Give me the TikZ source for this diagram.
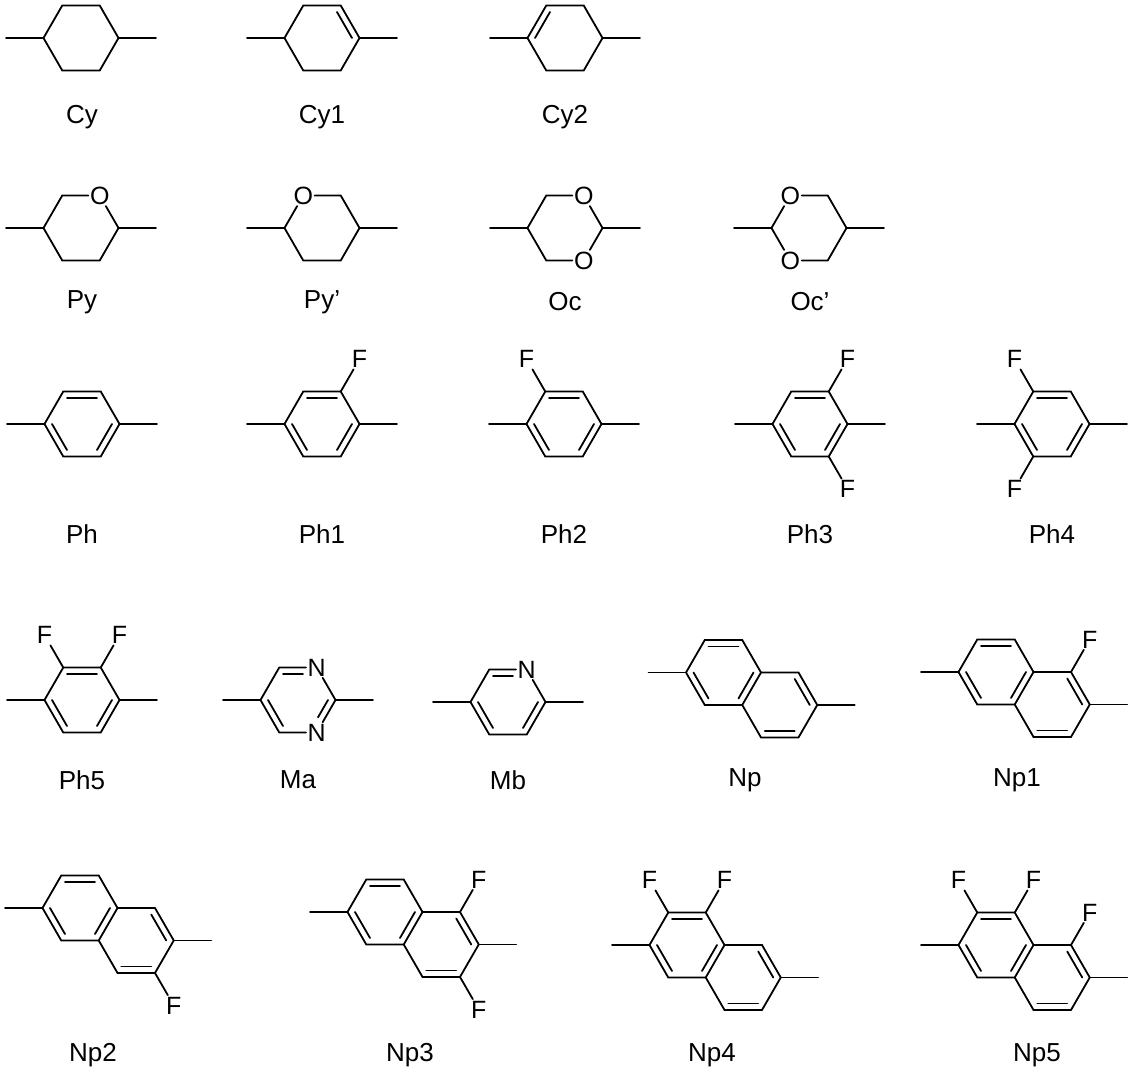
\documentclass[tikz,border=0pt]{standalone}
\usepackage{fontspec}
\setmainfont{Liberation Sans}
\usetikzlibrary{calc}

\newcommand\bl{37.5}
\tikzset{
  bond/.style={line width=1.8pt, line cap=round},
  atom/.style={inner sep=1.5pt, font=\fontsize{25}{29}\selectfont},
  lbl/.style={font=\fontsize{26}{30}\selectfont}
}
% ring of six corners, 0 = right, counted anticlockwise on the page
\newcommand\hexring[3]{%
  \coordinate (#1c) at (#2,#3);
  \foreach \i in {0,...,5}{\coordinate (#1\i) at ({#2+\bl*cos(\i*60)},{#3-\bl*sin(\i*60)});}}
\newcommand\ringbonds[1]{\draw[bond] (#10)--(#11)--(#12)--(#13)--(#14)--(#15)--(#10);}
\newcommand\dbl[4][0pt]{\draw[bond,shorten <=#1] ($(#2#3)!0.2!(#2c)$) -- ($(#2#4)!0.2!(#2c)$);}
\newcommand\het[3]{\node[atom] (#1#2) at (#1#2) {#3};}
\newcommand\subl[2]{\coordinate (#1#2s) at ($(#1#2)+(-\bl,0)$); \draw[bond] (#1#2) -- (#1#2s);}
\newcommand\subr[2]{\coordinate (#1#2s) at ($(#1#2)+(\bl,0)$); \draw[bond] (#1#2) -- (#1#2s);}
\newcommand\fsub[2]{\node[atom] (#1#2F) at ($(#1c)!2!(#1#2)$) {F}; \draw[bond] (#1#2) -- (#1#2F);}
\newcommand\mol[4]{\hexring{#1}{#2}{#3}#4\ringbonds{#1}\subl{#1}{3}\subr{#1}{0}}
\newcommand\arom[1]{\dbl{#1}{1}{2}\dbl{#1}{3}{4}\dbl{#1}{5}{0}}
\newcommand\naph[3]{%
  \pgfmathsetmacro\bx{#2+1.5*\bl}\pgfmathsetmacro\by{#3+0.866*\bl}
  \hexring{#1L}{#2}{#3}\hexring{#1R}{\bx}{\by}
  \ringbonds{#1L}
  \draw[bond] (#1R2)--(#1R1)--(#1R0)--(#1R5)--(#1R4)--(#1R3);
  \dbl{#1L}{1}{2}\dbl{#1L}{3}{4}\dbl{#1L}{5}{0}\dbl{#1R}{0}{1}\dbl{#1R}{4}{5}
  \subl{#1L}{3}\subr{#1R}{0}}

\begin{document}
\begin{tikzpicture}[x=1pt,y=-1pt]
\useasboundingbox (0,0) rectangle (1133,1079);

% cyclohexanes
\mol{cya}{81}{38}{}
\mol{cyb}{322}{38}{}\dbl{cyb}{0}{1}
\mol{cyc}{565}{38}{}\dbl{cyc}{2}{3}
\node[lbl] (cya-lbl) at (82,117) {Cy};
\node[lbl] (cyb-lbl) at (322,117) {Cy1};
\node[lbl] (cyc-lbl) at (565,117) {Cy2};

% oxygen rings
\mol{pya}{81}{228}{\het{pya}{1}{O}}
\mol{pyb}{322}{228}{\het{pyb}{2}{O}}
\mol{oca}{565}{228}{\het{oca}{1}{O}\het{oca}{5}{O}}
\mol{ocb}{809}{228}{\het{ocb}{2}{O}\het{ocb}{4}{O}}
\node[lbl] (pya-lbl) at (82,302) {Py};
\node[lbl] (pyb-lbl) at (322,302) {Py'};
\node[lbl] (oca-lbl) at (565,302) {Oc};
\node[lbl] (ocb-lbl) at (810,302) {Oc'};

% benzenes
\mol{pha}{82}{424}{}\arom{pha}
\mol{phb}{322}{424}{}\arom{phb}\fsub{phb}{1}
\mol{phc}{564}{424}{}\arom{phc}\fsub{phc}{2}
\mol{phd}{810}{424}{}\arom{phd}\fsub{phd}{1}\fsub{phd}{5}
\mol{phe}{1052}{424}{}\arom{phe}\fsub{phe}{2}\fsub{phe}{4}
\node[lbl] (pha-lbl) at (82,534) {Ph};
\node[lbl] (phb-lbl) at (322,534) {Ph1};
\node[lbl] (phc-lbl) at (564,534) {Ph2};
\node[lbl] (phd-lbl) at (810,534) {Ph3};
\node[lbl] (phe-lbl) at (1052,534) {Ph4};

\mol{phf}{82}{700}{}\arom{phf}\fsub{phf}{2}\fsub{phf}{1}
\mol{maa}{298}{700}{\het{maa}{1}{N}\het{maa}{5}{N}}
\dbl[10pt]{maa}{1}{2}\dbl{maa}{3}{4}\dbl[10pt]{maa}{5}{0}
\mol{mba}{508}{702}{\het{mba}{1}{N}}
\dbl[10pt]{mba}{1}{2}\dbl{mba}{3}{4}\dbl{mba}{5}{0}
\node[lbl] (phf-lbl) at (82,780) {Ph5};
\node[lbl] (maa-lbl) at (298,780) {Ma};
\node[lbl] (mba-lbl) at (508,780) {Mb};

% naphthalenes
\naph{npa}{723.5}{672.5}
\naph{npb}{996}{672}\fsub{npbR}{1}
\node[lbl] (npa-lbl) at (745,780) {Np};
\node[lbl] (npb-lbl) at (1017,780) {Np1};

\naph{npc}{80}{908}\fsub{npcR}{5}
\naph{npd}{385}{912}\fsub{npdR}{1}\fsub{npdR}{5}
\naph{npe}{687}{945}\fsub{npeL}{2}\fsub{npeL}{1}
\naph{npf}{996}{945}\fsub{npfL}{2}\fsub{npfL}{1}\fsub{npfR}{1}
\node[lbl] (npc-lbl) at (93,1055) {Np2};
\node[lbl] (npd-lbl) at (410,1055) {Np3};
\node[lbl] (npe-lbl) at (712,1055) {Np4};
\node[lbl] (npf-lbl) at (1037,1055) {Np5};
\end{tikzpicture}
\end{document}
